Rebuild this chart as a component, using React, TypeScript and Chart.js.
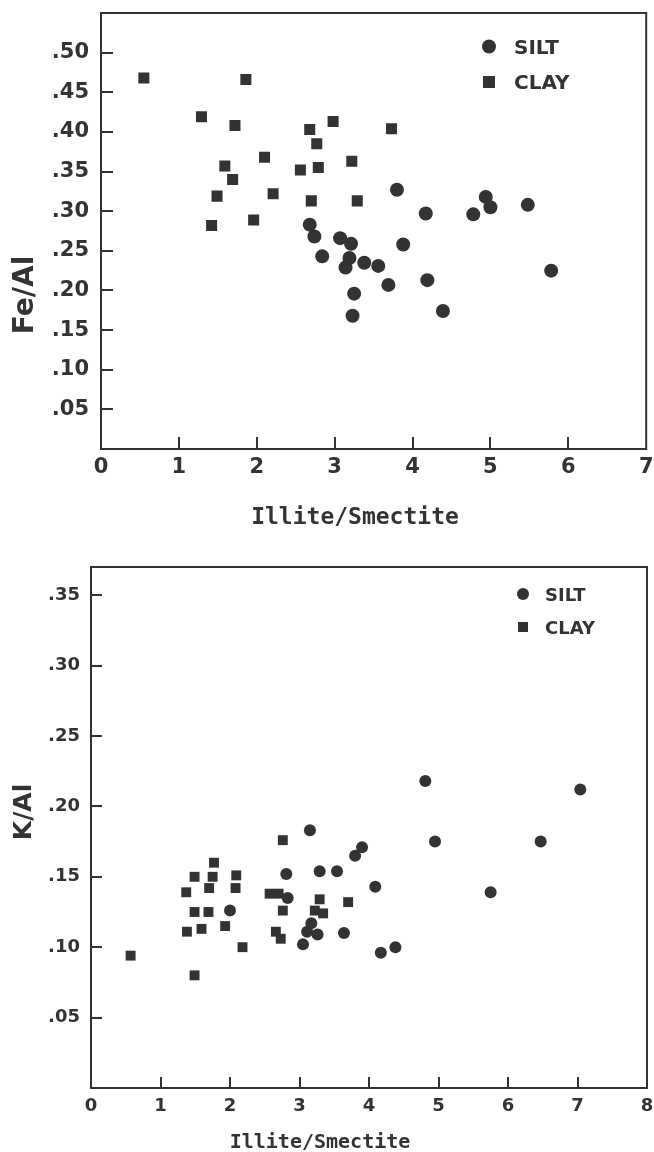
import React, { useEffect, useRef } from 'react';
import { Chart, registerables } from 'chart.js';

Chart.register(...registerables);

// ---------- data ----------
const SERIES_LABELS = ['SILT', 'CLAY'];
const X_TITLE = 'Illite/Smectite';
const Y_TITLE_FE = 'Fe/Al';
const Y_TITLE_K = 'K/Al';

// Top panel: Fe/Al vs Illite/Smectite
const SILT_FE_ILLITE = [3.80, 4.17, 4.78, 4.94, 5.00, 5.48, 5.78, 2.68, 2.74, 2.84, 3.07, 3.21, 3.19, 3.14, 3.38, 3.56, 3.88, 3.69, 4.19, 3.25, 3.23, 4.39];
const SILT_FE_RATIO = [0.327, 0.297, 0.296, 0.318, 0.305, 0.308, 0.225, 0.283, 0.268, 0.243, 0.266, 0.259, 0.241, 0.229, 0.235, 0.231, 0.258, 0.207, 0.213, 0.196, 0.168, 0.174];
const CLAY_FE_ILLITE = [0.55, 1.86, 1.29, 1.72, 2.68, 2.98, 3.73, 2.77, 2.10, 1.59, 3.22, 1.69, 2.56, 2.79, 1.49, 2.21, 2.70, 3.29, 1.42, 1.96];
const CLAY_FE_RATIO = [0.468, 0.466, 0.419, 0.408, 0.403, 0.413, 0.404, 0.385, 0.368, 0.357, 0.363, 0.340, 0.352, 0.355, 0.319, 0.322, 0.313, 0.313, 0.282, 0.289];

// Bottom panel: K/Al vs Illite/Smectite
const SILT_K_ILLITE = [3.15, 3.90, 3.80, 2.81, 3.29, 3.54, 4.09, 2.83, 2.00, 3.17, 3.11, 3.26, 3.64, 3.05, 4.17, 4.38, 4.81, 7.04, 4.95, 6.47, 5.75];
const SILT_K_RATIO = [0.183, 0.171, 0.165, 0.152, 0.154, 0.154, 0.143, 0.135, 0.126, 0.117, 0.111, 0.109, 0.110, 0.102, 0.096, 0.100, 0.218, 0.212, 0.175, 0.175, 0.139];
const CLAY_K_ILLITE = [0.57, 1.49, 1.37, 1.49, 1.77, 1.75, 1.70, 2.09, 2.08, 1.49, 1.69, 1.38, 1.59, 1.93, 2.18, 2.76, 2.57, 2.70, 2.76, 2.66, 2.73, 3.29, 3.22, 3.34, 3.70];
const CLAY_K_RATIO = [0.094, 0.080, 0.139, 0.150, 0.160, 0.150, 0.142, 0.151, 0.142, 0.125, 0.125, 0.111, 0.113, 0.115, 0.100, 0.176, 0.138, 0.138, 0.126, 0.111, 0.106, 0.134, 0.126, 0.124, 0.132];

// Tick labels
const FE_X_TICK_LABELS = ['0', '1', '2', '3', '4', '5', '6', '7'];
const FE_Y_TICK_LABELS = ['.05', '.10', '.15', '.20', '.25', '.30', '.35', '.40', '.45', '.50'];
const K_X_TICK_LABELS = ['0', '1', '2', '3', '4', '5', '6', '7', '8'];
const K_Y_TICK_LABELS = ['.05', '.10', '.15', '.20', '.25', '.30', '.35'];

// ---------- styling ----------
const INK = '#333333';
const SANS = '"DejaVu Sans", sans-serif';
const MONO = '"DejaVu Sans Mono", monospace';

type Panel = {
  width: number; height: number;
  padTop: number; padRight: number;
  yAxisWidth: number; xAxisHeight: number;
  xMax: number; yMax: number;
  xLabels: string[]; yLabels: string[];
  siltX: number[]; siltY: number[]; clayX: number[]; clayY: number[];
  circleR: number; rectR: number;
  tickFont: number; xTickPad: number; yTickPad: number; tickLen: number;
  yTitle: string; yTitleFont: number; yTitleX: number; yTitleY: number;
  xTitleFont: number; xTitleX: number; xTitleY: number;
  legendX: number; legendTextX: number; legendY: number[]; legendFont: number;
  legendCircleR: number; legendSquare: number;
};

const TOP: Panel = {
  width: 654, height: 560,
  padTop: 13, padRight: 7,
  yAxisWidth: 101, xAxisHeight: 111,
  xMax: 7, yMax: 0.55,
  xLabels: FE_X_TICK_LABELS, yLabels: FE_Y_TICK_LABELS,
  siltX: SILT_FE_ILLITE, siltY: SILT_FE_RATIO, clayX: CLAY_FE_ILLITE, clayY: CLAY_FE_RATIO,
  circleR: 7, rectR: 7.8,
  tickFont: 21, xTickPad: 6, yTickPad: 12, tickLen: 12,
  yTitle: Y_TITLE_FE, yTitleFont: 28, yTitleX: 33, yTitleY: 295,
  xTitleFont: 23, xTitleX: 355, xTitleY: 524,
  legendX: 489, legendTextX: 514, legendY: [46.5, 82], legendFont: 20,
  legendCircleR: 7, legendSquare: 12,
};

const BOTTOM: Panel = {
  width: 654, height: 592,
  padTop: 3, padRight: 6,
  yAxisWidth: 91, xAxisHeight: 64,
  xMax: 8, yMax: 0.37,
  xLabels: K_X_TICK_LABELS, yLabels: K_Y_TICK_LABELS,
  siltX: SILT_K_ILLITE, siltY: SILT_K_RATIO, clayX: CLAY_K_ILLITE, clayY: CLAY_K_RATIO,
  circleR: 6, rectR: 7,
  tickFont: 18, xTickPad: 8, yTickPad: 11, tickLen: 11,
  yTitle: Y_TITLE_K, yTitleFont: 25, yTitleX: 31, yTitleY: 252,
  xTitleFont: 20, xTitleX: 320, xTitleY: 588,
  legendX: 523, legendTextX: 545, legendY: [34, 67], legendFont: 18,
  legendCircleR: 6, legendSquare: 10,
};

const decorPlugin = {
  id: 'panelDecor',
  afterDraw(chart: any, _args: any, opts: any) {
    const p: Panel = opts.panel;
    const { ctx, chartArea } = chart;
    const { left, right, top, bottom } = chartArea;
    ctx.save();
    ctx.strokeStyle = INK;
    ctx.fillStyle = INK;
    ctx.lineWidth = 2;
    // frame
    ctx.strokeRect(left, top, right - left, bottom - top);
    // inward tick marks
    const xs = chart.scales.x;
    const ys = chart.scales.y;
    ctx.beginPath();
    xs.ticks.forEach((t: any) => {
      if (t.value <= xs.min + 1e-9 || t.value >= xs.max - 1e-9) return;
      const px = Math.round(xs.getPixelForValue(t.value));
      ctx.moveTo(px, bottom);
      ctx.lineTo(px, bottom - p.tickLen);
    });
    ys.ticks.forEach((t: any) => {
      if (t.value <= ys.min + 1e-9 || t.value >= ys.max - 1e-9) return;
      const py = Math.round(ys.getPixelForValue(t.value));
      ctx.moveTo(left, py);
      ctx.lineTo(left + p.tickLen, py);
    });
    ctx.stroke();

    // legend
    const ds = chart.data.datasets;
    ctx.font = `bold ${p.legendFont}px ${SANS}`;
    ctx.textAlign = 'left';
    ctx.textBaseline = 'alphabetic';
    const cap = p.legendFont * 0.729;
    ds.forEach((d: any, i: number) => {
      const y = p.legendY[i];
      ctx.beginPath();
      if (d.pointStyle === 'circle') {
        ctx.arc(p.legendX, y, p.legendCircleR, 0, Math.PI * 2);
        ctx.fill();
      } else {
        ctx.fillRect(p.legendX - p.legendSquare / 2, y - p.legendSquare / 2, p.legendSquare, p.legendSquare);
      }
      ctx.fillText(d.label, p.legendTextX, y + cap / 2);
    });

    // x-axis title
    ctx.font = `bold ${p.xTitleFont}px ${MONO}`;
    ctx.textAlign = 'center';
    ctx.fillText(X_TITLE, p.xTitleX, p.xTitleY);

    // y-axis title (rotated)
    ctx.font = `bold ${p.yTitleFont}px ${SANS}`;
    ctx.translate(p.yTitleX, p.yTitleY);
    ctx.rotate(-Math.PI / 2);
    ctx.textAlign = 'center';
    ctx.fillText(p.yTitle, 0, 0);
    ctx.restore();
  },
};

function buildConfig(p: Panel): any {
  const pts = (xs: number[], ys: number[]) => xs.map((x, i) => ({ x, y: ys[i] }));
  const fmtY = (v: number) => {
    const s = '.' + String(Math.round(v * 100)).padStart(2, '0');
    return p.yLabels.includes(s) ? s : '';
  };
  const fmtX = (v: number) => {
    const s = String(Math.round(v));
    return Math.abs(v - Math.round(v)) < 1e-6 && p.xLabels.includes(s) ? s : '';
  };
  return {
    type: 'scatter',
    data: {
      datasets: [
        {
          label: SERIES_LABELS[0],
          data: pts(p.siltX, p.siltY),
          pointStyle: 'circle',
          pointRadius: p.circleR,
          pointHoverRadius: p.circleR,
          backgroundColor: INK,
          borderWidth: 0,
        },
        {
          label: SERIES_LABELS[1],
          data: pts(p.clayX, p.clayY),
          pointStyle: 'rect',
          pointRadius: p.rectR,
          pointHoverRadius: p.rectR,
          backgroundColor: INK,
          borderWidth: 0,
        },
      ],
    },
    options: {
      responsive: false,
      animation: false,
      devicePixelRatio: 1,
      events: [],
      layout: { padding: { left: 0, top: p.padTop, right: p.padRight, bottom: 0 } },
      plugins: {
        legend: { display: false },
        tooltip: { enabled: false },
        panelDecor: { panel: p },
      },
      scales: {
        x: {
          type: 'linear',
          min: 0,
          max: p.xMax,
          grid: { display: false, drawTicks: false },
          border: { display: false },
          ticks: {
            stepSize: 1,
            autoSkip: false,
            maxRotation: 0,
            padding: p.xTickPad,
            color: INK,
            font: { family: SANS, size: p.tickFont, weight: 'bold' },
            callback: fmtX,
          },
          afterFit: (s: any) => {
            s.height = p.xAxisHeight;
            s.paddingLeft = 0;
            s.paddingRight = 0;
          },
        },
        y: {
          type: 'linear',
          min: 0,
          max: p.yMax,
          grid: { display: false, drawTicks: false },
          border: { display: false },
          ticks: {
            stepSize: 0.05,
            autoSkip: false,
            padding: p.yTickPad,
            color: INK,
            font: { family: SANS, size: p.tickFont, weight: 'bold' },
            callback: fmtY,
          },
          afterFit: (s: any) => {
            s.width = p.yAxisWidth;
            s.paddingTop = 0;
            s.paddingBottom = 0;
          },
        },
      },
    },
    plugins: [decorPlugin],
  };
}

function ScatterPanel({ panel }: { panel: Panel }) {
  const ref = useRef<HTMLCanvasElement>(null);
  useEffect(() => {
    if (!ref.current) return;
    const chart = new Chart(ref.current, buildConfig(panel));
    return () => chart.destroy();
  }, [panel]);
  return (
    <canvas
      ref={ref}
      width={panel.width}
      height={panel.height}
      style={{ display: 'block', width: panel.width, height: panel.height }}
    />
  );
}

export default function App() {
  return (
    <div style={{ position: 'absolute', left: 0, top: 0, width: 654, height: 1152, background: '#fff' }}>
      <ScatterPanel panel={TOP} />
      <ScatterPanel panel={BOTTOM} />
    </div>
  );
}
